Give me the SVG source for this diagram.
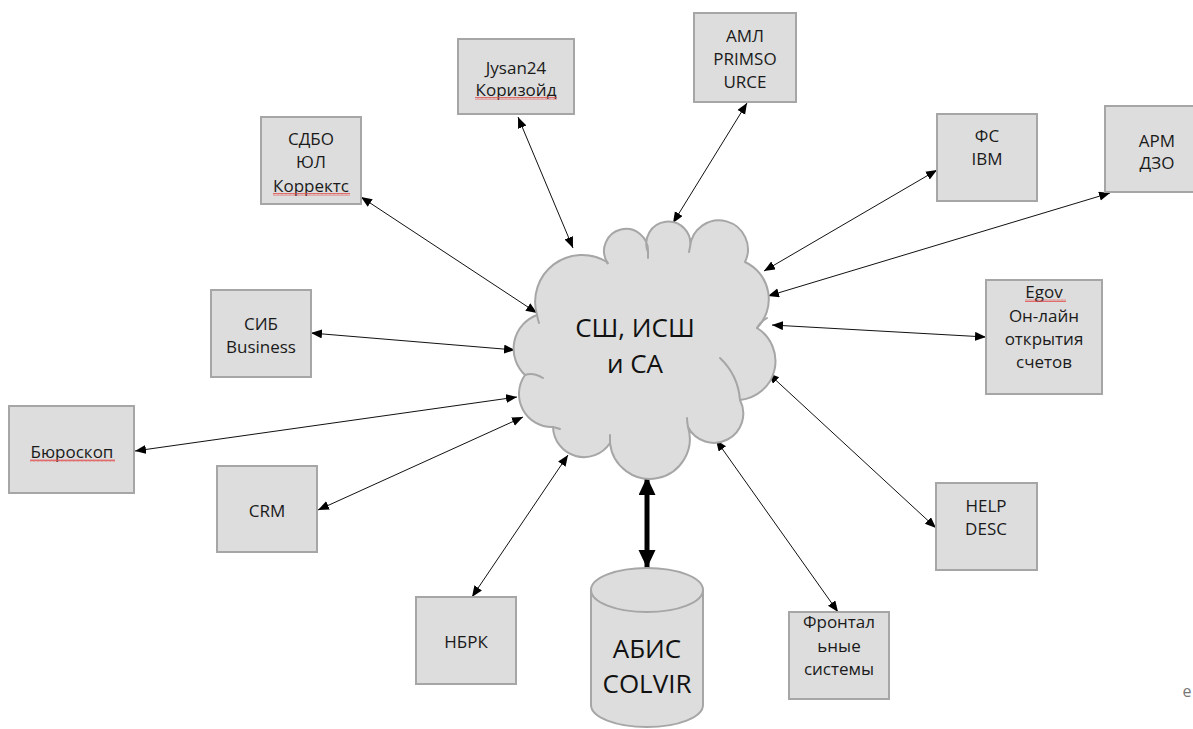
<svg xmlns="http://www.w3.org/2000/svg" width="1193" height="729" viewBox="0 0 1193 729">
<style>
.box{fill:#dddddd;stroke:#a6a6a6;stroke-width:2}
.t{font-family:"Open Sans","Noto Sans","DejaVu Sans",sans-serif;font-size:17px;fill:#1a1a1a;text-anchor:middle}
.big{font-family:"Open Sans","Noto Sans","DejaVu Sans",sans-serif;font-size:26px;fill:#111;text-anchor:middle}
.c{stroke:#111;stroke-width:1;fill:none;marker-start:url(#ah);marker-end:url(#ah)}
.thick{stroke:#000;stroke-width:5;fill:none;marker-start:url(#ahb);marker-end:url(#ahb)}
.cloud{fill:#dddddd;stroke:#a6a6a6;stroke-width:2;stroke-linejoin:round}
.inner{fill:none;stroke:#a6a6a6;stroke-width:2;stroke-linecap:round}
.wave{fill:url(#wv)}
</style>
<defs>
<marker id="ah" markerUnits="userSpaceOnUse" markerWidth="12" markerHeight="10" refX="11" refY="4.5" orient="auto-start-reverse"><path d="M0,0 L11,4.5 L0,9 z" fill="#000"/></marker>
<marker id="ahb" markerUnits="userSpaceOnUse" markerWidth="20" markerHeight="18" refX="18" refY="8.5" orient="auto-start-reverse"><path d="M0,0 L18,8.5 L0,17 z" fill="#000"/></marker>
<pattern id="wv" width="4" height="3" patternUnits="userSpaceOnUse"><path d="M0,2.5 L1,0.5 L2,2.5 L3,0.5 L4,2.5" fill="none" stroke="#e05050" stroke-width="0.8"/></pattern>
</defs>

<g id="connectors">
<line class="c" x1="361" y1="197" x2="537" y2="313"/>
<line class="c" x1="518" y1="117" x2="573" y2="248"/>
<line class="c" x1="747" y1="103" x2="673" y2="223"/>
<line class="c" x1="937" y1="170" x2="764" y2="271"/>
<line class="c" x1="1110" y1="193" x2="768" y2="296"/>
<line class="c" x1="986" y1="337" x2="772" y2="325"/>
<line class="c" x1="936" y1="528" x2="768" y2="373"/>
<line class="c" x1="838" y1="612" x2="716" y2="440"/>
<line class="c" x1="472" y1="597" x2="568" y2="455"/>
<line class="c" x1="318" y1="510" x2="523" y2="417"/>
<line class="c" x1="135" y1="451" x2="517" y2="397"/>
<line class="c" x1="311" y1="333" x2="515" y2="350"/>
<line class="thick" x1="647" y1="477" x2="647" y2="568"/>
</g>

<g id="cloud">
<path class="cloud" d="M525,375 A36,36 0 0 1 537,315 A47,47 0 0 1 607,262 A22,22 0 1 1 648,252 A22,22 0 1 1 690,247 A29,29 0 1 1 745,262 A41,41 0 0 1 757,328 A39,39 0 0 1 740,400 A29,29 0 0 1 688,427 A40,40 0 1 1 610,443 A31,31 0 0 1 553,427 A33,33 0 0 1 525,375 Z"/>
<path class="inner" d="M525,375 Q533,372 543,378"/>
<path class="inner" d="M757,328 Q760,322 767,318"/>
<path class="inner" d="M720,358 Q738,375 740,400"/>
<path class="inner" d="M537,315 Q538,320 539,323"/>
<path class="inner" d="M607,262 Q607,264 608,263"/>
<path class="inner" d="M648,252 L648,258"/>
<path class="inner" d="M690,247 L689,252"/>
<path class="inner" d="M688,427 Q687,421 687,418"/>
<path class="inner" d="M610,443 Q610,438 610,435"/>
<path class="inner" d="M553,427 Q557,428 560,429"/>
<text class="big" x="635" y="337">СШ, ИСШ</text>
<text class="big" x="635" y="373">и СА</text>
</g>

<g id="n-sdbo">
<rect class="box" x="261" y="117" width="100" height="87"/>
<text class="t" x="311" y="145">СДБО</text>
<text class="t" x="311" y="168">ЮЛ</text>
<text class="t" x="311" y="192">Корректс</text>
<rect class="wave" x="273" y="193" width="77" height="3"/>
</g>

<g id="n-jysan">
<rect class="box" x="458" y="39" width="116" height="75"/>
<text class="t" x="516" y="74">Jysan24</text>
<text class="t" x="516" y="96">Коризойд</text>
<rect class="wave" x="475" y="97" width="82" height="3"/>
</g>

<g id="n-aml">
<rect class="box" x="694" y="13" width="102" height="89"/>
<text class="t" x="745" y="42">АМЛ</text>
<text class="t" x="745" y="65">PRIMSO</text>
<text class="t" x="745" y="88">URCE</text>
</g>

<g id="n-fs">
<rect class="box" x="937" y="114" width="100" height="87"/>
<text class="t" x="987" y="142">ФС</text>
<text class="t" x="987" y="165">IBM</text>
</g>

<g id="n-arm">
<rect class="box" x="1105" y="106" width="104" height="86"/>
<text class="t" x="1157" y="147">АРМ</text>
<text class="t" x="1157" y="169">ДЗО</text>
</g>

<g id="n-egov">
<rect class="box" x="986" y="280" width="116" height="114"/>
<text class="t" x="1044" y="298">Egov</text>
<text class="t" x="1044" y="322">Он-лайн</text>
<text class="t" x="1044" y="345">открытия</text>
<text class="t" x="1044" y="368">счетов</text>
<rect class="wave" x="1025" y="299" width="41" height="3"/>
</g>

<g id="n-sib">
<rect class="box" x="211" y="290" width="100" height="87"/>
<text class="t" x="261" y="330">СИБ</text>
<text class="t" x="261" y="353">Business</text>
</g>

<g id="n-buro">
<rect class="box" x="9" y="406" width="125" height="87"/>
<text class="t" x="72" y="458">Бюроскоп</text>
<rect class="wave" x="30" y="459" width="85" height="3"/>
</g>

<g id="n-crm">
<rect class="box" x="217" y="466" width="100" height="86"/>
<text class="t" x="267" y="517">CRM</text>
</g>

<g id="n-nbrk">
<rect class="box" x="416" y="597" width="100" height="87"/>
<text class="t" x="466" y="648">НБРК</text>
</g>

<g id="n-colvir">
<path class="box" d="M591,590 L591,705 A56,22 0 0 0 703,705 L703,590"/>
<ellipse class="box" cx="647" cy="590" rx="56" ry="22"/>
<text class="big" x="647" y="658">АБИС</text>
<text class="big" x="647" y="693">COLVIR</text>
</g>

<g id="n-front">
<rect class="box" x="789" y="612" width="100" height="87"/>
<text class="t" x="839" y="628">Фронтал</text>
<text class="t" x="839" y="652">ьные</text>
<text class="t" x="839" y="675">системы</text>
</g>

<g id="n-help">
<rect class="box" x="936" y="483" width="101" height="87"/>
<text class="t" x="986" y="512">HELP</text>
<text class="t" x="986" y="535">DESC</text>
</g>

<text x="1187" y="697" font-family="'Open Sans','Noto Sans',sans-serif" font-size="16" fill="#777" text-anchor="middle">е</text>
</svg>
